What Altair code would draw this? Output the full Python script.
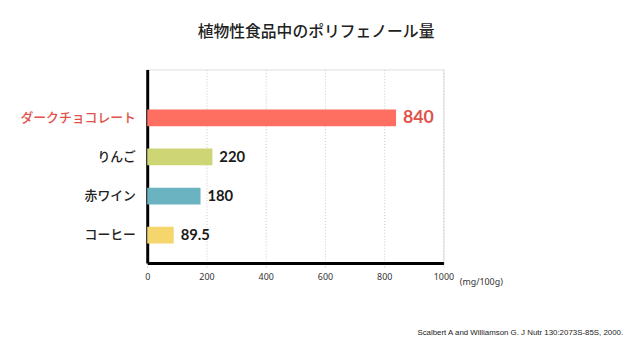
import altair as alt
import pandas as pd

foods = ["ダークチョコレート", "りんご", "赤ワイン", "コーヒー"]
values = [840, 220, 180, 89.5]
colors = ["#FF6F61", "#CDD574", "#6BB3C1", "#F5D66D"]
title_text = "植物性食品中のポリフェノール量"
unit_text = "(mg/100g)"
source_text = "Scalbert A and Williamson G. J Nutr 130:2073S-85S, 2000."
x_ticks = [0, 100, 200, 300, 400, 500, 600, 700, 800, 900, 1000]

df = pd.DataFrame({"food": foods, "value": values, "color": colors})
highlight = foods[0]

JP = "Noto Sans CJK JP"

y_enc = alt.Y(
    "food:N",
    sort=foods,
    scale=alt.Scale(paddingInner=0.57, paddingOuter=0.76, align=0.673),
    axis=alt.Axis(
        title=None,
        ticks=False,
        grid=False,
        domain=True,
        domainColor="#000000",
        domainWidth=3,
        labelFont=JP,
        labelFontSize=13,
        labelFontWeight=500,
        labelPadding=12,
        labelColor=alt.expr(f"datum.value == '{highlight}' ? '#E0534B' : '#222222'"),
    ),
)

x_enc = alt.X(
    "value:Q",
    scale=alt.Scale(domain=[0, 1000], nice=False),
    axis=alt.Axis(
        values=x_ticks,
        labelExpr="datum.value % 200 == 0 ? datum.label : ''",
        format="d",
        title=unit_text,
        titleFont="Noto Sans",
        titleFontSize=9,
        titleFontWeight="normal",
        titleColor="#333333",
        titleAlign="left",
        titleBaseline="middle",
        titleX=316,
        titleY=19,
        labelFont="Noto Sans",
        labelFontSize=9,
        labelColor="#333333",
        labelPadding=9,
        labelBaseline="middle",
        labelFlush=False,
        domain=True,
        domainColor="#000000",
        domainWidth=3,
        ticks=True,
        tickSize=5,
        tickColor="#BBBBBB",
        tickDash=[1, 2],
        grid=True,
        gridColor="#C8C8C8",
        gridDash=[1, 2],
        gridWidth=1,
    ),
)

bars = alt.Chart(df).mark_bar().encode(
    x=x_enc,
    y=y_enc,
    color=alt.Color("color:N", scale=None),
)

labels = alt.Chart(df).mark_text(
    align="left", baseline="middle", dx=7, font="Lato", fontWeight="bold"
).encode(
    x="value:Q",
    y=alt.Y("food:N", sort=foods),
    text=alt.Text("value:Q", format="~g"),
    size=alt.condition(alt.datum.food == highlight, alt.value(18), alt.value(15)),
    color=alt.condition(alt.datum.food == highlight, alt.value("#E0534B"), alt.value("#1A1A1A")),
)

src = alt.Chart(pd.DataFrame({"t": [source_text]})).mark_text(
    align="right", baseline="middle", font="Liberation Sans", fontSize=8, color="#222222"
).encode(
    x=alt.value(482),
    y=alt.value(267),
    text="t:N",
)

chart = alt.layer(bars, labels, src).properties(
    width=300,
    height=196,
    title=alt.TitleParams(
        title_text,
        font=JP,
        fontSize=16,
        fontWeight=500,
        color="#222222",
        anchor="middle",
        frame="group",
        dx=21,
        offset=30,
    ),
    autosize=alt.AutoSizeParams(type="none"),
    padding={"left": 141, "top": 60, "right": 192, "bottom": 95},
).configure_view(stroke=None).configure(background="white")

chart.save("out.html", embed_options={"renderer": "svg", "actions": False})
